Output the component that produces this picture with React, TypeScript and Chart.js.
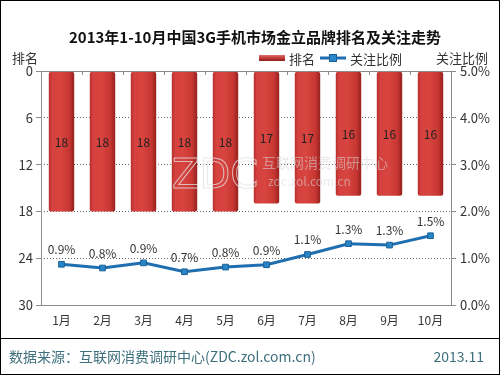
import React, { useEffect, useRef } from "react";
import { Chart, registerables } from "chart.js";
Chart.register(...registerables);

const titleText = "2013年1-10月中国3G手机市场金立品牌排名及关注走势";
const months = ["1月", "2月", "3月", "4月", "5月", "6月", "7月", "8月", "9月", "10月"];
const rankValues = [18, 18, 18, 18, 18, 17, 17, 16, 16, 16];
const attentionShare = [0.87, 0.79, 0.9, 0.71, 0.81, 0.86, 1.08, 1.31, 1.28, 1.48];
const rankTicks = [0, 6, 12, 18, 24, 30];
const shareTicks = [0, 1, 2, 3, 4, 5];
const rankLabel = "排名";
const shareLabel = "关注比例";
const sourceText = "数据来源：互联网消费调研中心(ZDC.zol.com.cn)";
const dateText = "2013.11";

const FONT = '"Noto Sans CJK SC", "Noto Sans", sans-serif';

const decorPlugin = {
  id: "decor",
  beforeDraw(chart: any) {
    const { ctx, width, height } = chart;
    ctx.save();
    ctx.fillStyle = "#ffffff";
    ctx.fillRect(0, 0, width, height);
    ctx.restore();
  },
  beforeDatasetsDraw(chart: any) {
    const { ctx, chartArea } = chart;
    const x = chart.scales.x;
    ctx.save();
    ctx.strokeStyle = "#8a8a8a";
    ctx.lineWidth = 1;
    for (let i = 1; i < months.length; i++) {
      const px = Math.round((x.getPixelForValue(i - 1) + x.getPixelForValue(i)) / 2) + 0.5;
      ctx.beginPath();
      ctx.moveTo(px, chartArea.top);
      ctx.lineTo(px, chartArea.top + 4);
      ctx.stroke();
    }
    ctx.restore();
  },
  afterDatasetsDraw(chart: any) {
    const { ctx, chartArea } = chart;
    ctx.save();
    const barMeta = chart.getDatasetMeta(0);
    ctx.font = `12px ${FONT}`;
    ctx.fillStyle = "#222222";
    ctx.textAlign = "center";
    ctx.textBaseline = "middle";
    barMeta.data.forEach((el: any, i: number) => {
      ctx.fillText(String(rankValues[i]), el.x, (el.y + el.base) / 2 + 1);
    });
    // watermark
    ctx.fillStyle = "rgba(215,215,215,0.55)";
    ctx.font = `40px "DejaVu Sans", sans-serif`;
    ctx.textAlign = "left";
    ctx.textBaseline = "alphabetic";
    ctx.strokeStyle = "rgba(225,225,225,0.75)";
    ctx.lineWidth = 1;
    ctx.strokeText("ZDC", 172, 188);
    ctx.font = `14px ${FONT}`;
    ctx.fillText("互联网消费调研中心", 262, 168);
    ctx.font = `12px ${FONT}`;
    ctx.fillText("zdc.zol.com.cn", 268, 186);
    const lineMeta = chart.getDatasetMeta(1);
    ctx.font = `12px ${FONT}`;
    ctx.fillStyle = "#333333";
    ctx.textAlign = "center";
    ctx.textBaseline = "alphabetic";
    lineMeta.data.forEach((el: any, i: number) => {
      ctx.fillText(attentionShare[i].toFixed(1) + "%", el.x, el.y - 10);
    });
    ctx.strokeStyle = "#8c8c8c";
    ctx.lineWidth = 1;
    ctx.strokeRect(
      Math.round(chartArea.left) + 0.5,
      Math.round(chartArea.top) + 0.5,
      Math.round(chartArea.right - chartArea.left),
      Math.round(chartArea.bottom - chartArea.top)
    );
    ctx.restore();
  },
  afterDraw(chart: any) {
    const { ctx, width, height } = chart;
    ctx.save();
    ctx.fillStyle = "#111111";
    ctx.font = `bold 15px ${FONT}`;
    ctx.textAlign = "center";
    ctx.textBaseline = "middle";
    ctx.fillText(titleText, 255, 37);
    ctx.font = `13px ${FONT}`;
    ctx.fillStyle = "#333333";
    ctx.fillText(rankLabel, 25, 58);
    ctx.fillText(shareLabel, 462, 58);
    const grad = ctx.createLinearGradient(0, 55, 0, 61);
    grad.addColorStop(0, "#e07070");
    grad.addColorStop(0.5, "#c23a36");
    grad.addColorStop(1, "#8e2220");
    ctx.fillStyle = grad;
    ctx.fillRect(259, 55, 26, 6);
    ctx.fillStyle = "#333333";
    ctx.textAlign = "left";
    ctx.fillText(rankLabel, 289, 59);
    ctx.strokeStyle = "#1f6fb0";
    ctx.lineWidth = 3;
    ctx.beginPath();
    ctx.moveTo(320, 58);
    ctx.lineTo(346, 58);
    ctx.stroke();
    ctx.fillStyle = "#2a86c8";
    ctx.fillRect(329, 54, 8, 8);
    ctx.strokeStyle = "#1a5f95";
    ctx.lineWidth = 1;
    ctx.strokeRect(329.5, 54.5, 7, 7);
    ctx.fillStyle = "#333333";
    ctx.fillText(shareLabel, 350, 59);
    ctx.strokeStyle = "#000000";
    ctx.lineWidth = 1;
    ctx.beginPath();
    ctx.moveTo(0, 338.5);
    ctx.lineTo(width, 338.5);
    ctx.stroke();
    ctx.fillStyle = "#3e6f7d";
    ctx.font = `14px ${FONT}`;
    ctx.textAlign = "left";
    ctx.fillText(sourceText, 9, 357);
    ctx.textAlign = "right";
    ctx.fillText(dateText, 484, 357);
    ctx.strokeStyle = "#000000";
    ctx.strokeRect(0.5, 0.5, width - 1, height - 1);
    ctx.restore();
  },
};

function barGradient(context: any) {
  const chart = context.chart;
  const x = chart.scales.x;
  if (!x || !chart.chartArea) return "#cf3a37";
  const cx = x.getPixelForValue(context.dataIndex);
  const hw = (x.width / months.length) * 0.62 / 2;
  const g = chart.ctx.createLinearGradient(cx - hw, 0, cx + hw, 0);
  g.addColorStop(0, "#b52e2b");
  g.addColorStop(0.12, "#d4413e");
  g.addColorStop(0.45, "#d8443f");
  g.addColorStop(0.8, "#c83733");
  g.addColorStop(1, "#96211f");
  return g;
}

export default function App() {
  const ref = useRef<HTMLCanvasElement>(null);
  useEffect(() => {
    document.body.style.margin = "0";
    const chart = new Chart(ref.current!, {
      data: {
        labels: months,
        datasets: [
          {
            type: "bar",
            label: rankLabel,
            data: rankValues,
            yAxisID: "y",
            backgroundColor: barGradient as any,
            borderWidth: 0,
            borderSkipped: false,
            borderRadius: { topLeft: 3, topRight: 3, bottomLeft: 2, bottomRight: 2 },
            categoryPercentage: 0.62,
            barPercentage: 1,
            order: 2,
          },
          {
            type: "line",
            label: shareLabel,
            data: attentionShare,
            yAxisID: "y1",
            borderColor: "#1f6fb0",
            borderWidth: 3,
            pointStyle: "rect",
            pointRadius: 4,
            pointBackgroundColor: "#2a86c8",
            pointBorderColor: "#1a5f95",
            pointBorderWidth: 1,
            tension: 0,
            order: 1,
          },
        ],
      } as any,
      options: {
        animation: false,
        responsive: false,
        devicePixelRatio: 1,
        layout: { padding: { top: 71, bottom: 46, left: 0, right: 0 } },
        plugins: { legend: { display: false }, tooltip: { enabled: false }, title: { display: false } },
        scales: {
          x: {
            grid: { display: false, drawTicks: false },
            border: { display: false },
            ticks: { color: "#333", font: { size: 12, family: FONT }, padding: 8, maxRotation: 0 },
            afterFit: (s: any) => { s.height = 24; },
          },
          y: {
            position: "left",
            reverse: true,
            min: 0,
            max: 30,
            afterBuildTicks: (s: any) => { s.ticks = rankTicks.map((v) => ({ value: v })); },
            ticks: { color: "#333", font: { size: 13, family: FONT }, padding: 3 },
            grid: { color: "#666", tickLength: 5, tickBorderDash: [], tickColor: "#8c8c8c" },
            border: { display: false, dash: [1, 2] },
            afterFit: (s: any) => { s.width = 41; },
          },
          y1: {
            position: "right",
            min: 0,
            max: 5,
            afterBuildTicks: (s: any) => { s.ticks = shareTicks.map((v) => ({ value: v })); },
            ticks: { color: "#333", font: { size: 13, family: FONT }, padding: 4, callback: (v: any) => Number(v).toFixed(1) + "%" },
            grid: { drawOnChartArea: false, tickLength: 5, color: "#8c8c8c" },
            border: { display: false },
            afterFit: (s: any) => { s.width = 49; },
          },
        },
      } as any,
      plugins: [decorPlugin],
    });
    return () => chart.destroy();
  }, []);
  return (
    <div style={{ position: "absolute", left: 0, top: 0, width: 500, height: 375 }}>
      <canvas ref={ref} width={500} height={375} style={{ display: "block", width: 500, height: 375 }} />
    </div>
  );
}
